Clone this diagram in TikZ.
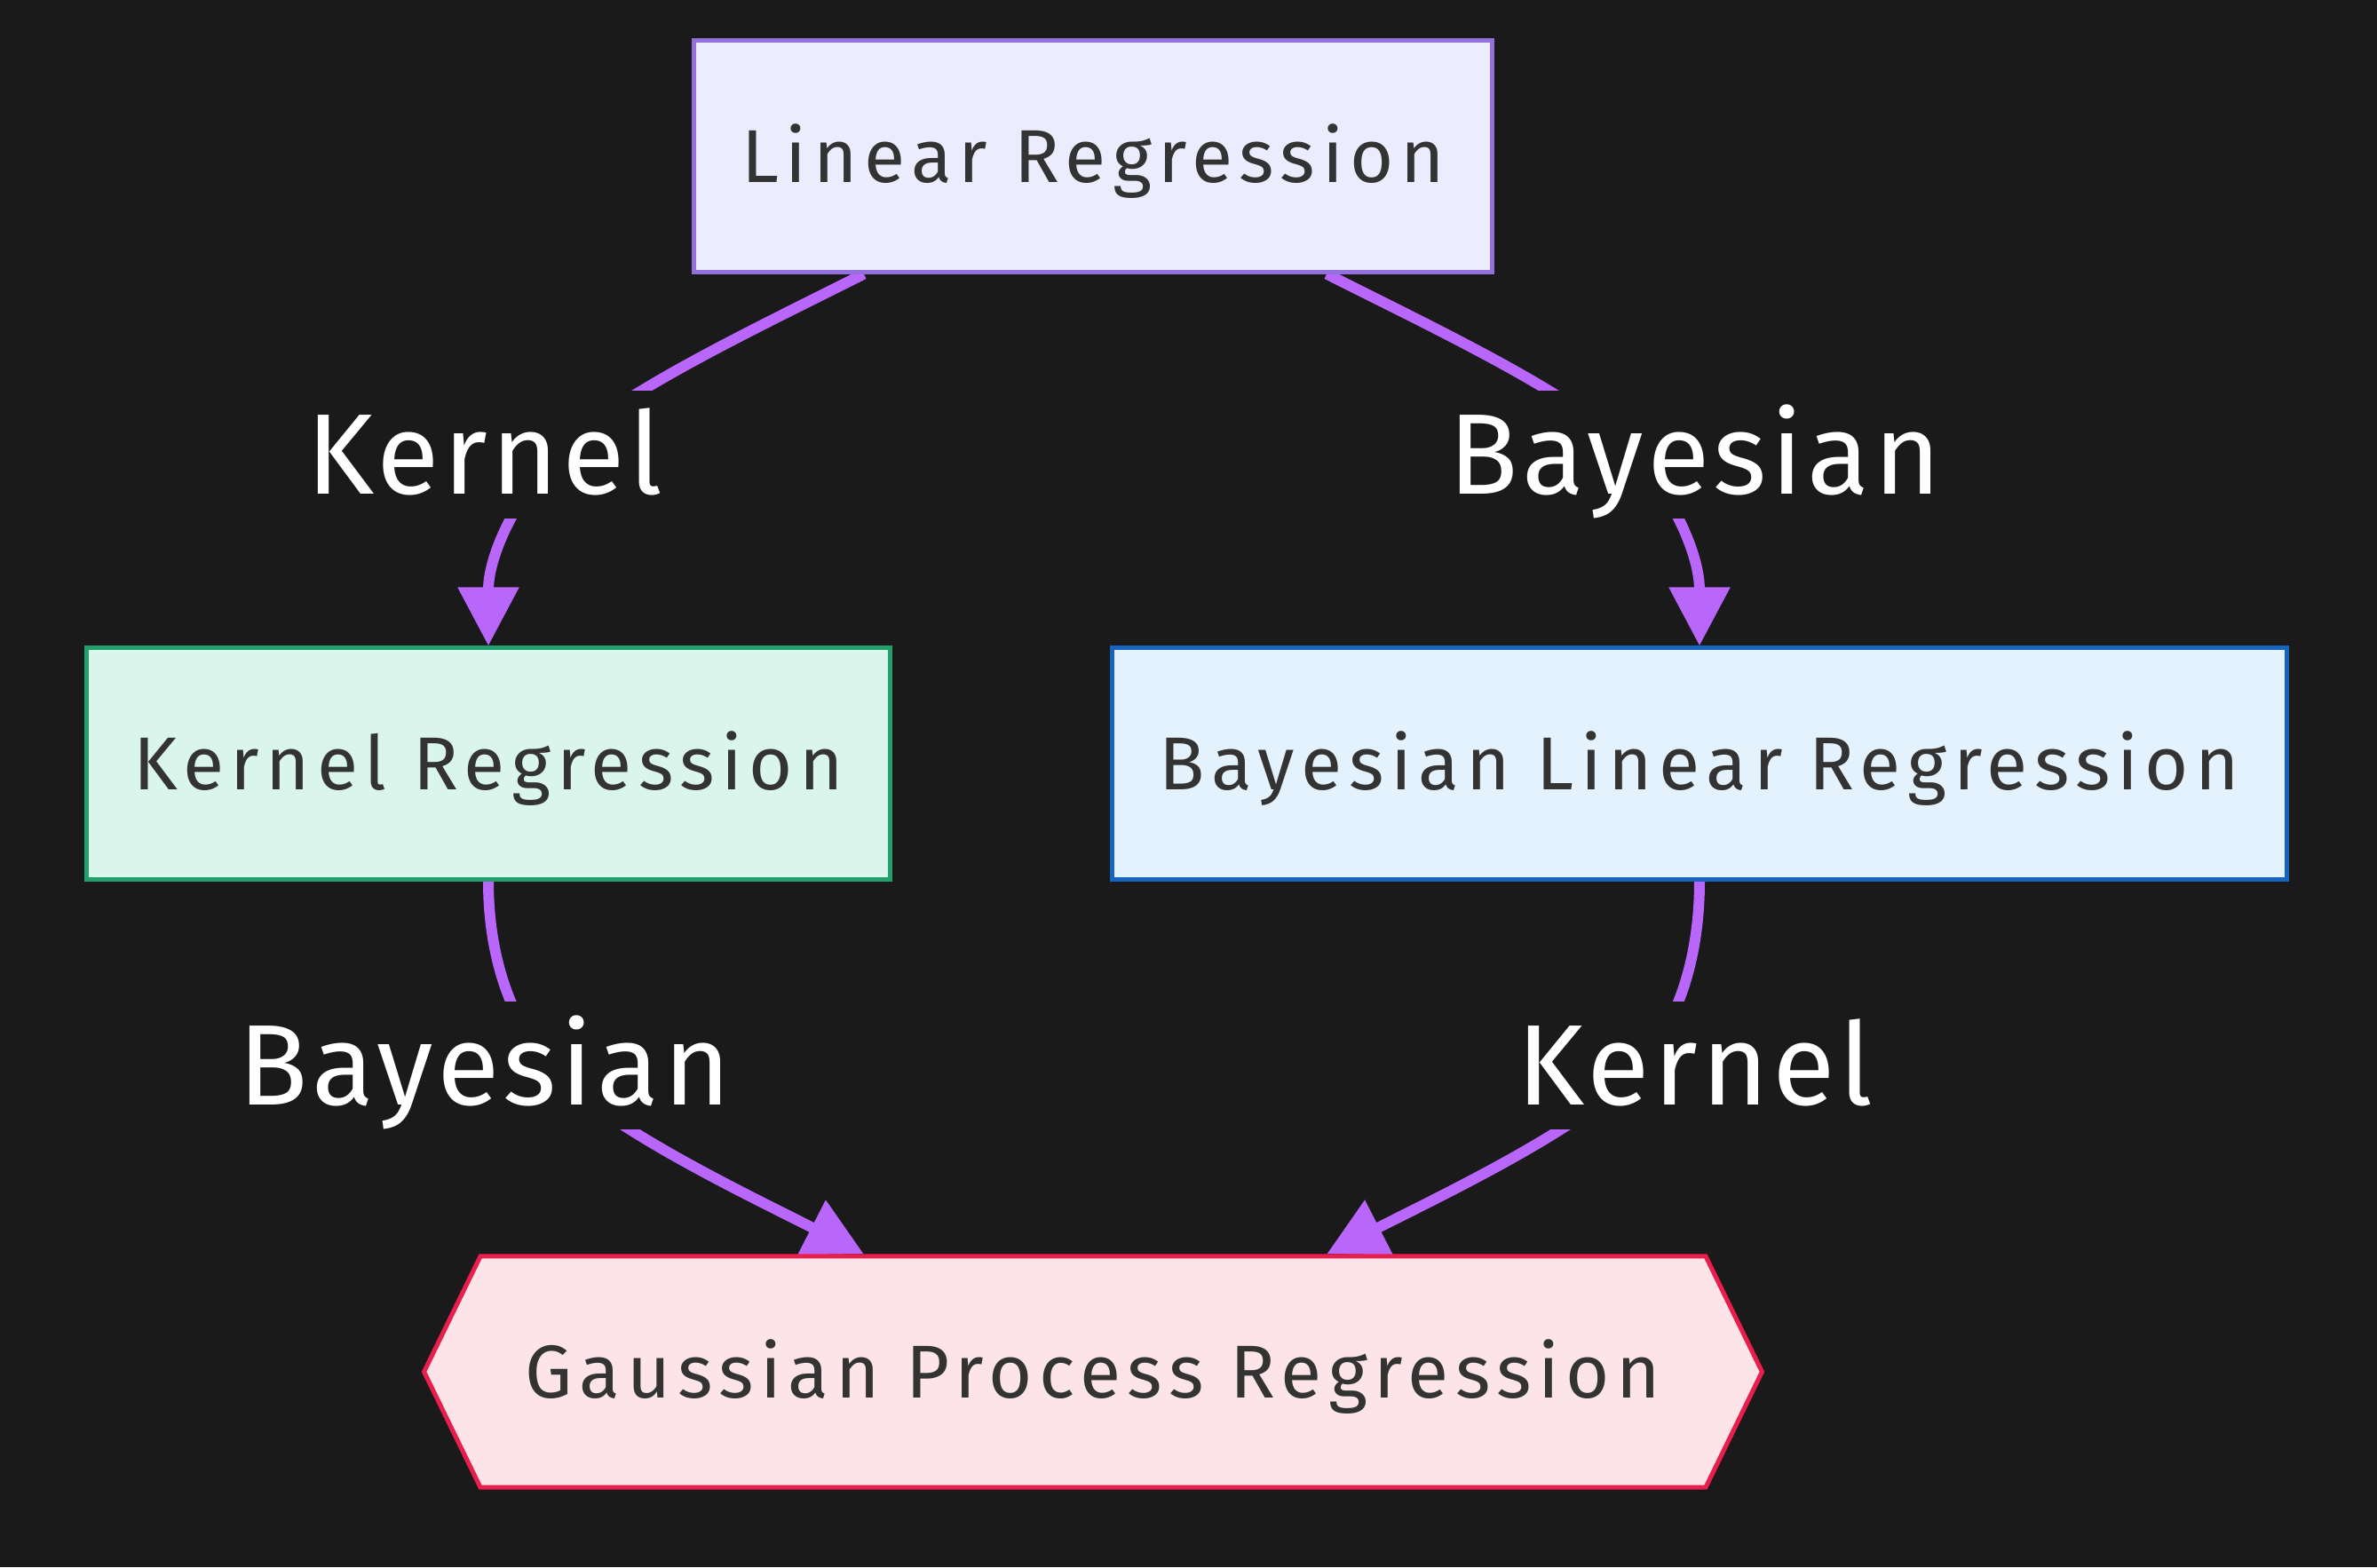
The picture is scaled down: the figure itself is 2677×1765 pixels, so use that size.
\documentclass[tikz,border=0pt]{standalone}
\usepackage{fontspec}
\setmainfont{Fira Sans}
\newfontfamily\nodefont[LetterSpace=9]{Fira Sans}
\newfontfamily\labfont[LetterSpace=3.5]{Fira Sans}
\usetikzlibrary{arrows.meta,shapes.symbols}
\definecolor{bg}{HTML}{1A1A1A}
\definecolor{edgec}{HTML}{B966FA}
\definecolor{txt}{HTML}{333333}
\definecolor{lrfill}{HTML}{ECECFF}
\definecolor{lrdraw}{HTML}{9370DB}
\definecolor{krfill}{HTML}{D9F5EC}
\definecolor{krdraw}{HTML}{22A06B}
\definecolor{blfill}{HTML}{E3F2FD}
\definecolor{bldraw}{HTML}{1565C0}
\definecolor{gpfill}{HTML}{FCE4E8}
\definecolor{gpdraw}{HTML}{E91E4C}
\pgfdeclarelayer{bglayer}
\pgfdeclarelayer{edgelayer}
\pgfsetlayers{bglayer,edgelayer,main}
\tikzset{
  boxnode/.style={rectangle, line width=0.05cm, text=txt,
    font=\nodefont\fontsize{24}{28}\selectfont, minimum height=2.6cm, inner sep=0pt,
    text height=0.58cm, text depth=0pt},
  edgelab/.style={fill=bg, text=white, inner sep=0pt, minimum height=1.44cm,
    text height=0.89cm, text depth=0pt,
    font=\labfont\fontsize{36.7}{44}\selectfont},
  edgeline/.style={draw=edgec, line width=0.12cm,
    -{Triangle[length=0.66cm,width=0.66cm]}}
}
\begin{document}
\begin{tikzpicture}[x=0.01cm,y=-0.01cm]
\begin{pgfonlayer}{bglayer}
\useasboundingbox[fill=bg] (0,0) rectangle (2677,1765);
\end{pgfonlayer}
\node[boxnode, fill=lrfill, draw=lrdraw, minimum width=8.98cm] (LR) at (1231,176) {Linear Regression};
\node[boxnode, fill=krfill, draw=krdraw, minimum width=9.05cm] (KR) at (550,860) {Kernel Regression};
\node[boxnode, fill=blfill, draw=bldraw, minimum width=13.22cm] (BL) at (1914,860) {Bayesian Linear Regression};
\node[boxnode, signal, signal to=east and west, signal pointer angle=128,
  fill=gpfill, draw=gpdraw, minimum width=15.06cm] (GP) at (1231,1545) {Gaussian Process Regression};
\node[edgelab] (l1) at (546,512) {Kernel};
\node[edgelab] (l2) at (1909,512) {Bayesian};
\node[edgelab] (l3) at (546,1200) {Bayesian};
\node[edgelab] (l4) at (1909,1200) {Kernel};
\begin{pgfonlayer}{edgelayer}
\draw[edgeline] ([xshift=-2.58cm]LR.south) .. controls (853,369) and (692,445) .. (635,505)
  .. controls (590,545) and (550,620) .. (KR.north);
\draw[edgeline] ([xshift=2.63cm]LR.south) .. controls (1614,369) and (1775,445) .. (1832,505)
  .. controls (1877,545) and (1914,620) .. (BL.north);
\draw[edgeline] (KR.south) .. controls (550,1100) and (590,1175) .. (635,1215)
  .. controls (692,1275) and (853,1351) .. ([xshift=-2.58cm]GP.north);
\draw[edgeline] (BL.south) .. controls (1914,1100) and (1877,1175) .. (1832,1215)
  .. controls (1775,1275) and (1614,1351) .. ([xshift=2.63cm]GP.north);
\end{pgfonlayer}
\end{tikzpicture}
\end{document}
